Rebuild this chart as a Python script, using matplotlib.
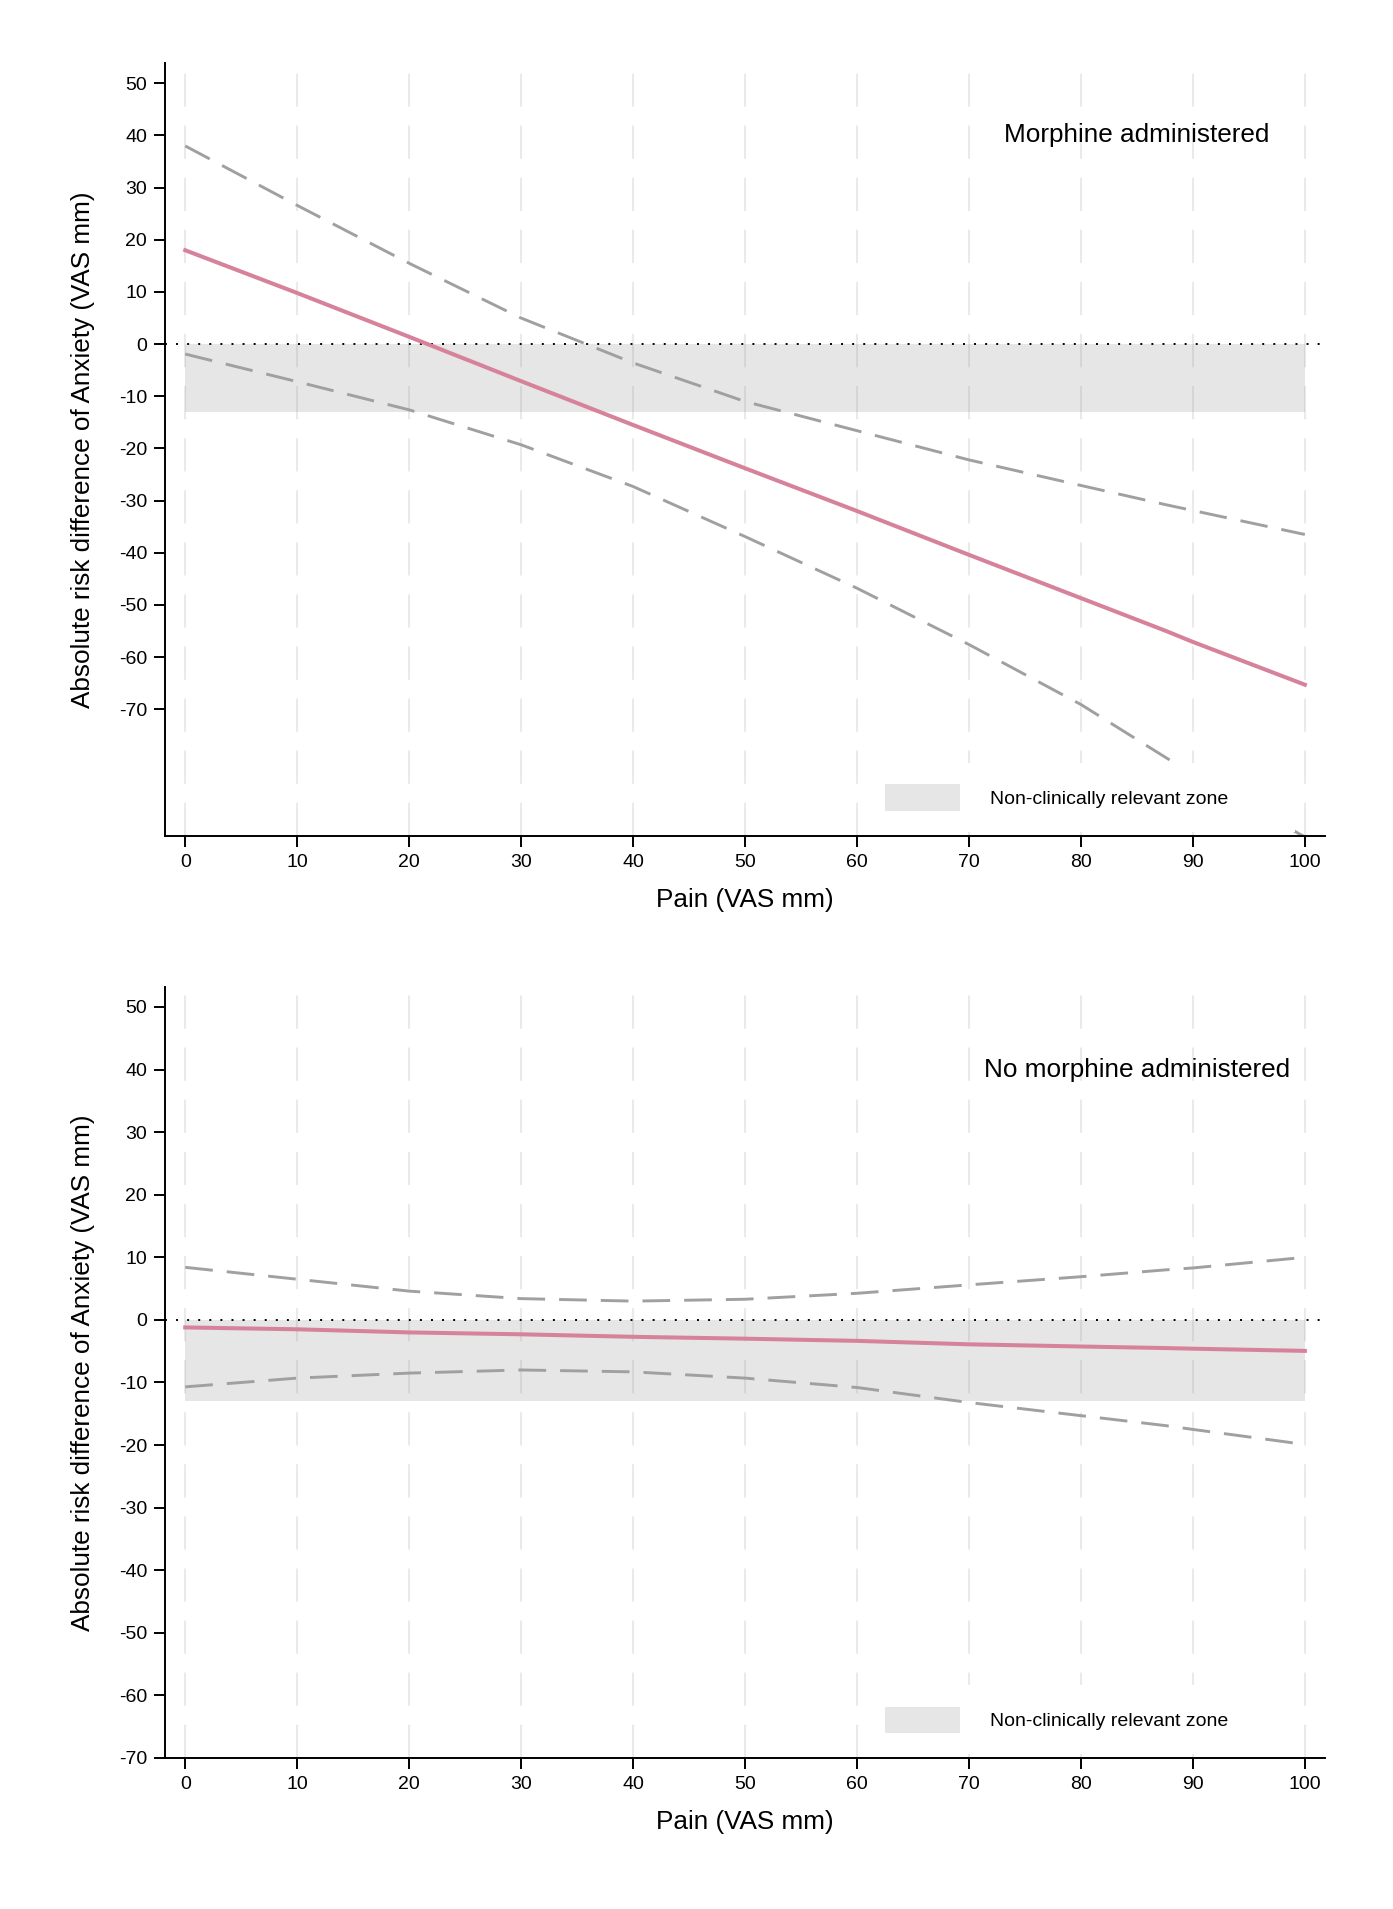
import matplotlib
matplotlib.use("Agg")
from matplotlib import pyplot as plt

plt.rcParams["font.family"] = ["Liberation Sans", "DejaVu Sans"]
plt.rcParams["axes.unicode_minus"] = False

# Pain (VAS mm)
pain = [0, 10, 20, 30, 40, 50, 60, 70, 80, 87.6, 90, 100]

# Morphine administered
morph_est = [18.0, 9.8, 1.4, -7.1, -15.5, -23.8, -32.0, -40.4, -48.7, -55.0, -57.1, -65.3]
morph_hi = [38.0, 26.6, 15.5, 5.0, -3.6, -11.0, -16.6, -22.2, -27.1, -30.8, -31.9, -36.5]
morph_lo = [-1.9, -7.2, -12.6, -19.3, -27.3, -36.9, -46.8, -57.6, -69.1, -79.3, -82.4, -94.5]

# No morphine administered
nomorph_est = [-1.2, -1.5, -2.0, -2.3, -2.7, -3.0, -3.35, -3.9, -4.25, -4.5, -4.6, -4.95]
nomorph_hi = [8.4, 6.5, 4.6, 3.4, 3.0, 3.3, 4.25, 5.6, 6.9, 8.0, 8.3, 10.0]
nomorph_lo = [-10.7, -9.3, -8.5, -8.0, -8.3, -9.3, -10.8, -13.2, -15.3, -16.9, -17.5, -19.9]

zone_x = [0, 100]
zone_lo = -13
xticks = list(range(0, 101, 10))
yticks = list(range(50, -71, -10))

panels = [
    ("Morphine administered", morph_est, morph_hi, morph_lo, (-94.3, 53.9)),
    ("No morphine administered", nomorph_est, nomorph_hi, nomorph_lo, (-70, 53.2)),
]

fig = plt.figure(figsize=(13.93, 19.09), dpi=100)
axes = [fig.add_axes([0.1185, 0.5621, 0.8327, 0.4049]),
        fig.add_axes([0.1185, 0.0791, 0.8327, 0.4039])]

PINK = "#d7829b"
CI_GREY = "#a0a0a0"
ZONE = "#e6e6e6"

for ax, (title, est, hi, lo, ylim) in zip(axes, panels):
    ax.fill_between(zone_x, zone_lo, 0, color=ZONE, linewidth=0, zorder=1,
                    label="Non-clinically relevant zone")
    ax.axhline(0, color="black", lw=1.4, dashes=(1, 4.7), zorder=1.8)
    ax.plot(pain, hi, color=CI_GREY, lw=2.1, dashes=(9.5, 4.8), zorder=2)
    ax.plot(pain, lo, color=CI_GREY, lw=2.1, dashes=(9.5, 4.8), zorder=2)
    ax.plot(pain, est, color=PINK, lw=2.9, zorder=3)

    ax.set_xlim(-1.8, 101.8)
    ax.set_ylim(*ylim)
    ax.set_xticks(xticks)
    ax.set_yticks(yticks)
    ax.tick_params(axis="both", direction="out", length=8, width=1.4,
                   labelsize=14, pad=5)

    ax.set_axisbelow("line")
    ax.grid(axis="x", color="#808080", alpha=0.16, lw=1.5, dashes=(16, 9))
    ax.grid(axis="y", visible=False)

    for side in ("top", "right"):
        ax.spines[side].set_visible(False)
    for side in ("left", "bottom"):
        ax.spines[side].set_linewidth(1.4)

    ax.set_xlabel("Pain (VAS mm)", fontsize=18.8)
    ax.set_ylabel("Absolute risk difference of Anxiety (VAS mm)", fontsize=18.8)
    ax.xaxis.set_label_coords(0.5, -0.067)
    ax.yaxis.set_label_coords(-0.06, 0.5)

    ax.text(85, 40, title, fontsize=18.8, ha="center", va="center")

    leg = ax.legend(loc="lower left", bbox_to_anchor=(0.6025, 0.005, 0.372, 0.1),
                    mode="expand", borderaxespad=0, borderpad=1.1,
                    fontsize=14, handlelength=3.86, handleheight=1.7,
                    handletextpad=1.54, frameon=True, fancybox=False)
    leg.get_frame().set_facecolor("white")
    leg.get_frame().set_edgecolor("none")
    leg.get_frame().set_alpha(1)

fig.savefig("out.png", dpi=100)
